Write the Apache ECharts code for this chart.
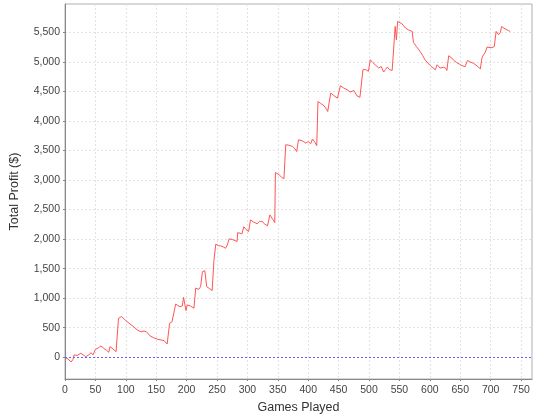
<!DOCTYPE html>
<html>
<head>
<meta charset="utf-8">
<script src="https://cdn.jsdelivr.net/npm/echarts@6/dist/echarts.min.js"></script>
<style>
html,body{margin:0;padding:0;background:#fff;}
#chart{width:540px;height:420px;}
</style>
</head>
<body>
<div id="chart"></div>
<script>
// Games played (x) and total profit in $ (y)
const games = [0,5,10,13,15,20,26,30,34,38,43,46,48,50,55,59,64,68,72,74,79,84,87,88,93,100,110,119,125,130,134,140,146,152,158,163,168,170,172,176,179,182,189,193,195,199,201,206,212,215,220,223,226,230,233,238,242,245,248,252,256,260,264,267,270,276,283,284,291,294,298,302,305,310,316,320,324,328,333,337,342,345,346,352,356,360,363,368,374,378,381,384,390,396,400,404,407,411,414,416,420,426,430,432,437,442,448,453,458,464,469,475,480,485,488,490,494,497,499,502,506,510,516,520,524,527,530,534,538,541,543,545,547,550,554,557,560,565,571,573,578,584,588,592,597,601,605,609,612,617,622,626,628,631,636,640,644,649,653,658,660,662,666,669,672,675,679,683,686,691,694,697,702,706,708,709,713,716,718,722,725,729,732];
const profit = [0,-30,-80,-40,40,30,68,40,10,30,78,40,10,135,160,190,150,120,85,180,140,95,100,660,690,620,540,462,430,445,430,360,330,305,293,280,225,250,575,600,630,900,855,870,1015,790,885,870,830,1170,1150,1195,1450,1465,1195,1160,1130,1650,1915,1890,1885,1870,1845,1900,2005,1990,1960,2110,2090,2210,2160,2130,2325,2290,2260,2300,2300,2260,2225,2410,2330,2280,3127,3090,3050,3020,3597,3590,3570,3530,3483,3681,3665,3625,3650,3615,3695,3640,3580,4330,4300,4257,4200,4160,4472,4430,4387,4596,4560,4528,4490,4516,4427,4400,4375,4867,4870,4880,4840,5036,4990,4952,4895,4923,4828,4870,4913,4867,4855,4860,5600,5375,5685,5670,5646,5610,5573,5540,5516,5330,5260,5177,5110,5036,4980,4935,4900,4867,4952,4895,4910,4895,4855,5104,5065,5020,4990,4960,4935,4920,4913,5025,5000,4990,4975,4952,4920,4880,5082,5160,5250,5261,5240,5260,5251,5516,5460,5500,5600,5570,5556,5530,5516];
const xTicks = [0,50,100,150,200,250,300,350,400,450,500,550,600,650,700,750];
const yTicks = [0,500,1000,1500,2000,2500,3000,3500,4000,4500,5000,5500];
const xRange = [0, 768];
const yRange = [-368, 5980];

const seriesData = games.map((g, i) => [g, profit[i]]);
const fmt = v => String(v).replace(/\B(?=(\d{3})+(?!\d))/g, ',');

const chart = echarts.init(document.getElementById('chart'), null, {renderer: 'canvas'});
const labelFont = {fontFamily: 'Liberation Sans', fontSize: 10.5, color: '#444'};
const gridLine = {show: true, lineStyle: {color: '#e2e2e2', type: [2, 2], width: 1}};
chart.setOption({
  animation: false,
  backgroundColor: '#fff',
  grid: {left: 64, right: 8, top: 4, bottom: 41, show: true, borderColor: '#b0b0b0', borderWidth: 1, backgroundColor: '#fff'},
  xAxis: {
    type: 'value', min: xRange[0], max: xRange[1],
    name: 'Games Played', nameLocation: 'middle', nameGap: 20,
    nameTextStyle: {fontFamily: 'Liberation Sans', fontSize: 12.5, color: '#333'},
    axisLine: {show: true, onZero: false, lineStyle: {color: '#888'}},
    axisTick: {show: true, length: 2, lineStyle: {color: '#888'}, customValues: xTicks},
    axisLabel: Object.assign({customValues: xTicks, margin: 6}, labelFont),
    splitLine: gridLine
  },
  yAxis: {
    type: 'value', min: yRange[0], max: yRange[1],
    name: 'Total Profit ($)', nameLocation: 'middle', nameGap: 44, nameRotate: 90,
    nameTextStyle: {fontFamily: 'Liberation Sans', fontSize: 12.5, color: '#333'},
    axisLine: {show: true, onZero: false, lineStyle: {color: '#888'}},
    axisTick: {show: true, length: 2, lineStyle: {color: '#888'}, customValues: yTicks},
    axisLabel: Object.assign({customValues: yTicks, margin: 5, formatter: fmt}, labelFont),
    splitLine: gridLine
  },
  series: [{
    type: 'line',
    data: seriesData,
    showSymbol: false,
    symbol: 'none',
    lineStyle: {color: '#ff5555', width: 1},
    z: 3,
    markLine: {
      silent: true, symbol: 'none', label: {show: false},
      lineStyle: {color: '#6060ff', type: [2, 2], width: 1},
      data: [{yAxis: 0}]
    }
  }]
});
</script>
</body>
</html>
